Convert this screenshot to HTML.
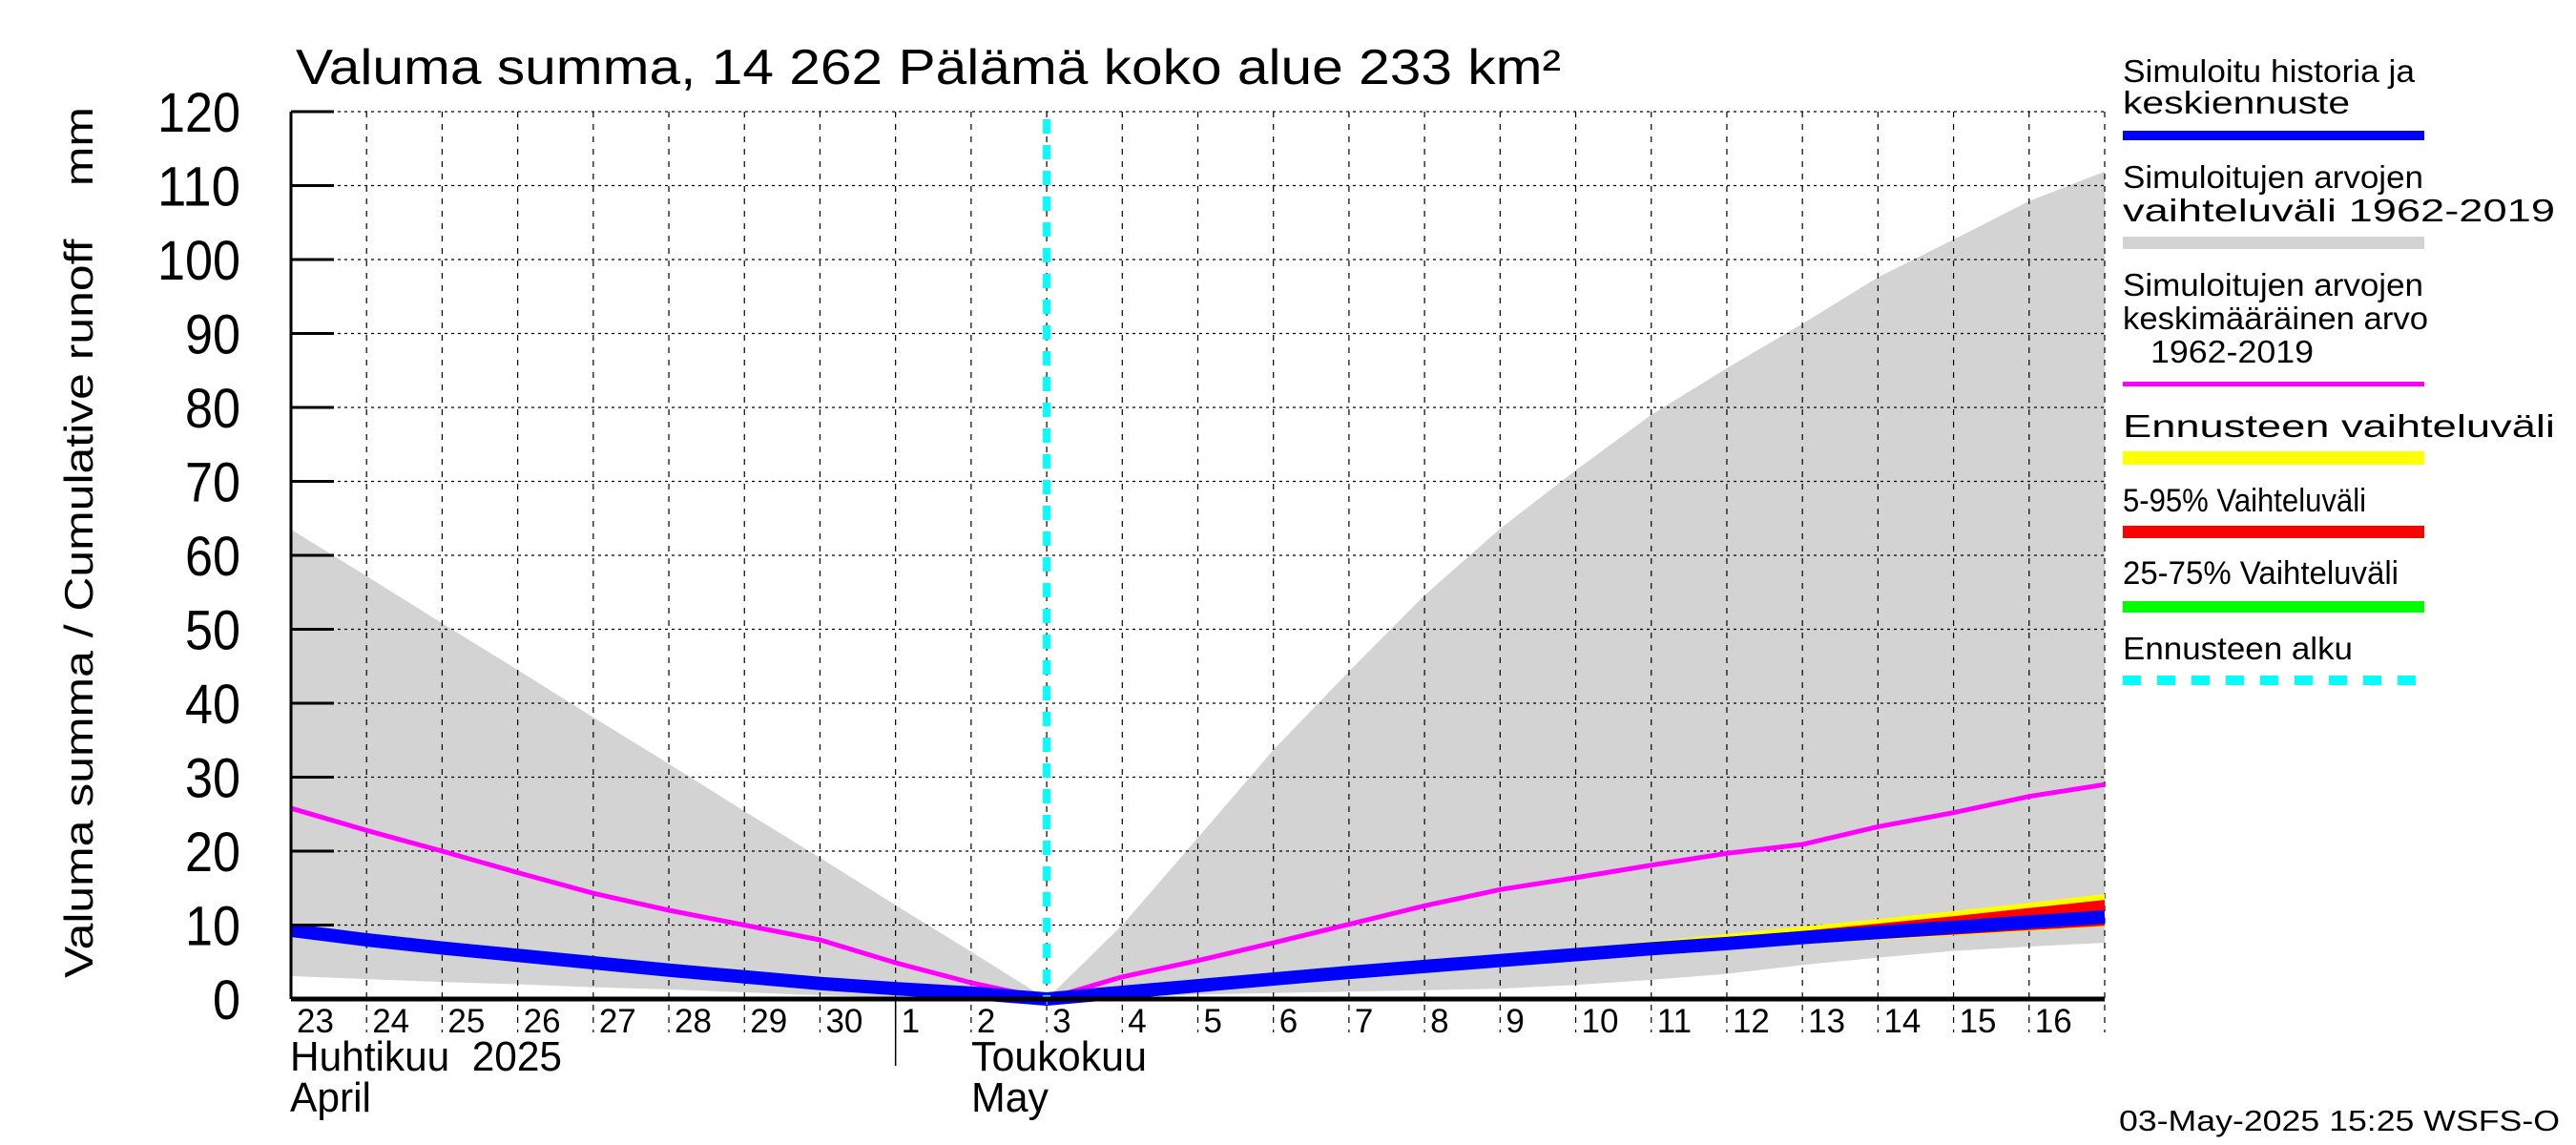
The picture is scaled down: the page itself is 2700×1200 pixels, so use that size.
<!DOCTYPE html>
<html><head><meta charset="utf-8"><style>
html,body{margin:0;padding:0;background:#fff;}
svg{display:block;}
text{font-family:"Liberation Sans",sans-serif;fill:#000;}
</style></head><body>
<svg id="chart" width="2700" height="1200" viewBox="0 0 2700 1200" xmlns="http://www.w3.org/2000/svg">
<rect width="2700" height="1200" fill="#fff"/>
<text x="310" y="88" font-size="52" textLength="1326" lengthAdjust="spacingAndGlyphs">Valuma summa, 14 262 Pälämä koko alue 233 km²</text>
<text transform="translate(97,1025) rotate(-90)" font-size="42" textLength="913" lengthAdjust="spacingAndGlyphs" style="white-space:pre">Valuma summa / Cumulative runoff    mm</text>
<g id="plot"></g>
<g id="legend">
<text x="2225" y="86" font-size="33" textLength="306" lengthAdjust="spacingAndGlyphs">Simuloitu historia ja</text>
<text x="2225" y="119" font-size="33" textLength="238" lengthAdjust="spacingAndGlyphs">keskiennuste</text>
<rect x="2225" y="137" width="316" height="10" fill="#0000ff"/>
<text x="2225" y="197" font-size="33" textLength="315" lengthAdjust="spacingAndGlyphs">Simuloitujen arvojen</text>
<text x="2225" y="232" font-size="33" textLength="453" lengthAdjust="spacingAndGlyphs">vaihteluväli 1962-2019</text>
<rect x="2225" y="248" width="316" height="13" fill="#d3d3d3"/>
<text x="2225" y="310" font-size="33" textLength="315" lengthAdjust="spacingAndGlyphs">Simuloitujen arvojen</text>
<text x="2225" y="345" font-size="33" textLength="320" lengthAdjust="spacingAndGlyphs">keskimääräinen arvo</text>
<text x="2254" y="380" font-size="33" textLength="171" lengthAdjust="spacingAndGlyphs">1962-2019</text>
<rect x="2225" y="400" width="316" height="5" fill="#ff00ff"/>
<text x="2225" y="458" font-size="33" textLength="453" lengthAdjust="spacingAndGlyphs">Ennusteen vaihteluväli</text>
<rect x="2225" y="473" width="316" height="14" fill="#ffff00"/>
<text x="2225" y="536" font-size="34" textLength="255" lengthAdjust="spacingAndGlyphs">5-95% Vaihteluväli</text>
<rect x="2225" y="551" width="316" height="13" fill="#ff0000"/>
<text x="2225" y="612" font-size="34" textLength="289" lengthAdjust="spacingAndGlyphs">25-75% Vaihteluväli</text>
<rect x="2225" y="630" width="316" height="12" fill="#00ff00"/>
<text x="2225" y="691" font-size="33" textLength="241" lengthAdjust="spacingAndGlyphs">Ennusteen alku</text>
<line x1="2225" y1="713" x2="2541" y2="713" stroke="#00ffff" stroke-width="10" stroke-dasharray="19 17"/>
</g>
<text x="2221" y="1185" font-size="31" textLength="462" lengthAdjust="spacingAndGlyphs">03-May-2025 15:25 WSFS-O</text>
</svg>
<script>
var dayLabels = ["23","24","25","26","27","28","29","30","1","2","3","4","5","6","7","8","9","10","11","12","13","14","15","16"];
var yTicks = [0,10,20,30,40,50,60,70,80,90,100,110,120];
var rangeHigh = [63.5,57.2,50.8,44.5,38.1,31.8,25.4,19.1,12.7,6.4,0,10,21.8,33.7,44.3,54.6,63.6,71.5,79,85.3,91.3,97.6,102.7,107.9,111.9];
var rangeLow = [3.1,2.7,2.3,2.0,1.6,1.3,0.9,0.5,0.2,0.05,0,0.2,0.6,0.8,1.0,1.2,1.4,1.9,2.6,3.4,4.6,5.6,6.5,7.1,7.6];
var meanValues = [25.8,22.8,20,17.1,14.3,12,10,8,4.9,2.2,0,3,5.2,7.6,10.1,12.6,14.8,16.4,18.1,19.7,20.9,23.3,25.2,27.4,29];
var historyValues = [9.3,8.0,6.9,5.9,4.9,3.9,3.0,2.1,1.4,0.8,0];
var forecastStartIndex = 10;
var forecastMean = [0,0.9,1.8,2.7,3.6,4.4,5.2,6.0,6.8,7.5,8.3,9.0,9.7,10.4,11.1];
var forecastMaxHigh = [0,0.9,1.9,2.8,3.9,4.9,5.9,6.9,7.8,8.8,9.8,10.8,11.9,13.0,14.2];
var forecastMaxLow = [0,0.9,1.7,2.5,3.3,4.0,4.7,5.4,6.1,6.7,7.4,8.0,8.6,9.2,9.8];
var p95 = [0,0.9,1.9,2.8,3.8,4.7,5.6,6.5,7.4,8.3,9.2,10.2,11.2,12.3,13.4];
var p5 = [0,0.9,1.7,2.6,3.4,4.1,4.8,5.5,6.2,6.8,7.5,8.1,8.7,9.3,9.9];
var p75 = [0,0.9,1.8,2.7,3.6,4.4,5.2,6.1,6.9,7.7,8.5,9.3,10.0,10.8,11.7];
var p25 = [0,0.9,1.8,2.7,3.6,4.4,5.2,5.9,6.7,7.4,8.1,8.8,9.5,10.1,10.7];

var X0 = 305, X1 = 2206, Y0 = 1047, Y1 = 117, NDAYS = 24, YMAX = 120;
function xs(i){ return X0 + (X1 - X0) * i / NDAYS; }
function ys(v){ return Y0 - (Y0 - Y1) * v / YMAX; }
var NS = "http://www.w3.org/2000/svg";
var plot = document.getElementById("plot");
function mk(tag, attrs, parent){
  var e = document.createElementNS(NS, tag);
  for (var k in attrs) e.setAttribute(k, attrs[k]);
  (parent || plot).appendChild(e);
  return e;
}
function bandPath(hi, lo, off){
  var d = "";
  for (var i = 0; i < hi.length; i++) d += (i ? "L" : "M") + xs(i + off) + "," + ys(hi[i]);
  for (var j = lo.length - 1; j >= 0; j--) d += "L" + xs(j + off) + "," + ys(lo[j]);
  return d + "Z";
}
function linePath(vals, off){
  var d = "";
  for (var i = 0; i < vals.length; i++) d += (i ? "L" : "M") + xs(i + off) + "," + ys(vals[i]);
  return d;
}
var band = mk("path", {d: bandPath(rangeHigh, rangeLow, 0), fill: "#d3d3d3"});


for (var t = 1; t < yTicks.length; t++) {
  var gl = mk("line", {x1: X0, x2: X1, y1: ys(yTicks[t]), y2: ys(yTicks[t]), stroke: "#000", "stroke-width": 1.2, "stroke-dasharray": "3 4"});
  
  
}
for (var i = 1; i <= NDAYS; i++) {
  var vl = mk("line", {x1: xs(i), x2: xs(i), y1: Y1, y2: 1082, stroke: "#000", "stroke-width": 1.2, "stroke-dasharray": "6 7"});
  
  
}
var ml = mk("line", {x1: xs(8), x2: xs(8), y1: Y0, y2: 1117, stroke: "#000", "stroke-width": 1.5});


var bY = mk("path", {d: bandPath(forecastMaxHigh, forecastMaxLow, forecastStartIndex), fill: "#ffff00"});


var bR = mk("path", {d: bandPath(p95, p5, forecastStartIndex), fill: "#ff0000"});


var bG = mk("path", {d: bandPath(p75, p25, forecastStartIndex), fill: "#00ff00"});


var mline = mk("path", {d: linePath(meanValues, 0), fill: "none", stroke: "#ff00ff", "stroke-width": 5});


var hl = mk("path", {d: linePath(historyValues, 0), fill: "none", stroke: "#0000ff", "stroke-width": 14});


var fl = mk("path", {d: linePath(forecastMean, forecastStartIndex), fill: "none", stroke: "#0000ff", "stroke-width": 14});


var cy = mk("line", {x1: xs(forecastStartIndex), x2: xs(forecastStartIndex), y1: 125, y2: Y0, stroke: "#00ffff", "stroke-width": 8, "stroke-dasharray": "15 12"});


var ax = mk("line", {x1: X0, x2: X0, y1: Y1, y2: Y0, stroke: "#000", "stroke-width": 3});


var bx = mk("line", {x1: X0, x2: X1, y1: Y0, y2: Y0, stroke: "#000", "stroke-width": 5});


for (var t = 0; t < yTicks.length; t++) {
  var tk = mk("line", {x1: X0, x2: 350, y1: ys(yTicks[t]), y2: ys(yTicks[t]), stroke: "#000", "stroke-width": 3});
  
  
  var s = String(yTicks[t]);
  var tl = mk("text", {x: 252, y: ys(yTicks[t]) + 21, "font-size": 58, "text-anchor": "end", textLength: s.length * 29, lengthAdjust: "spacingAndGlyphs"});
  tl.textContent = s;
  
  
}
for (var i = 0; i < dayLabels.length; i++) {
  var dl = mk("text", {x: xs(i) + 6, y: 1082, "font-size": 35});
  dl.textContent = dayLabels[i];
  
  
}
var months = [["Huhtikuu  2025", 304, 1122, 285], ["April", 304, 1165, 85], ["Toukokuu", 1018, 1122, 184], ["May", 1018, 1165, 81]];
for (var m = 0; m < months.length; m++) {
  var mt = mk("text", {x: months[m][1], y: months[m][2], "font-size": 44, textLength: months[m][3], lengthAdjust: "spacingAndGlyphs", style: "white-space:pre"});
  mt.textContent = months[m][0];
  
  
}
</script>
</body></html>
